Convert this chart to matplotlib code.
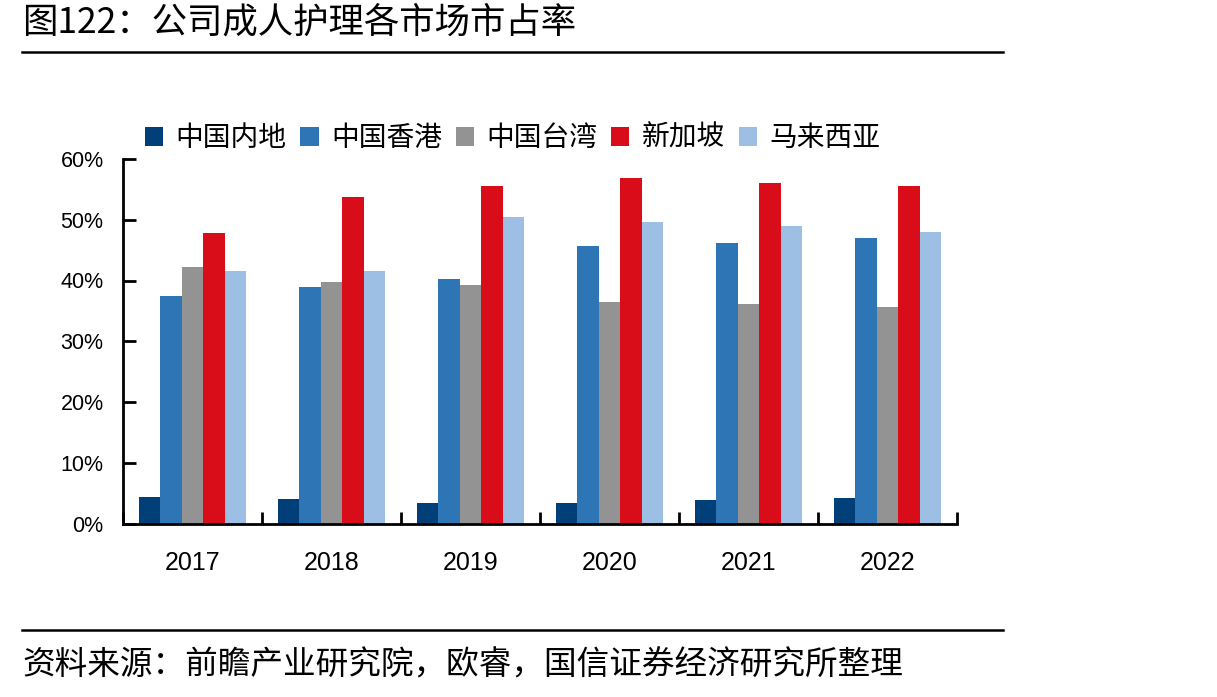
import numpy as np
import matplotlib
matplotlib.use('Agg')
import matplotlib.pyplot as plt
from matplotlib.ticker import FixedLocator, PercentFormatter

plt.rcParams['font.family'] = ['Noto Sans CJK SC', 'DejaVu Sans']

years = ['2017', '2018', '2019', '2020', '2021', '2022']
series_names = ['中国内地', '中国香港', '中国台湾', '新加坡', '马来西亚']
mainland = [4.3, 4.0, 3.4, 3.4, 3.8, 4.2]
hongkong = [37.5, 39.0, 40.3, 45.6, 46.2, 47.0]
taiwan = [42.3, 39.8, 39.2, 36.4, 36.1, 35.7]
singapore = [47.8, 53.7, 55.5, 56.9, 56.1, 55.5]
malaysia = [41.5, 41.6, 50.5, 49.7, 49.0, 48.0]
colors = ['#003f78', '#2e75b6', '#939393', '#d90c1a', '#9cbfe3']

title = '图122：公司成人护理各市场市占率'
source = '资料来源：前瞻产业研究院，欧睿，国信证券经济研究所整理'

W, H = 1217, 697
fig = plt.figure(figsize=(W / 100, H / 100), dpi=100)
ax = fig.add_axes([123 / W, 1 - 523.5 / H, 834 / W, 364.5 / H])

values = [mainland, hongkong, taiwan, singapore, malaysia]
x = np.arange(len(years))
bw = 0.155
for i, (vals, name, c) in enumerate(zip(values, series_names, colors)):
    ax.bar(x + (i - 2) * bw, vals, width=bw, color=c, label=name, linewidth=0)

ax.set_xlim(-0.5, len(years) - 0.5)
ax.set_ylim(0, 60)
ax.set_yticks(np.arange(0, 61, 10))
ax.yaxis.set_major_formatter(PercentFormatter(decimals=0))
ax.set_xticks(x)
ax.set_xticklabels(years)
ax.xaxis.set_minor_locator(FixedLocator(np.arange(-0.5, len(years), 1.0)))

for s in ['top', 'right']:
    ax.spines[s].set_visible(False)
for s in ['left', 'bottom']:
    ax.spines[s].set_linewidth(2)

ax.tick_params(axis='y', direction='in', length=9, width=2, pad=14,
               labelsize=15.5)
for lab in ax.get_yticklabels():
    lab.set_fontfamily(['Liberation Sans', 'DejaVu Sans'])
ax.tick_params(axis='x', which='major', length=0, pad=20, labelsize=18)
ax.tick_params(axis='x', which='minor', direction='in', length=9, width=2)
for lab in ax.get_xticklabels():
    lab.set_fontfamily(['Liberation Sans', 'DejaVu Sans'])

fig.legend(loc='center left', bbox_to_anchor=(145 / W, 1 - 138 / H),
           ncol=5, frameon=False, fontsize=20, borderpad=0, borderaxespad=0,
           handlelength=0.65, handleheight=0.65, handletextpad=0.45,
           columnspacing=0.5)

# title and source with separator lines
fig.text(22 / W, 1 - 23 / H, title, fontsize=25.5, va='center', ha='left')
fig.add_artist(plt.Line2D([22 / W, 1003 / W], [1 - 52 / H, 1 - 52 / H],
                          color='black', linewidth=1.8))
fig.add_artist(plt.Line2D([22 / W, 1003 / W], [1 - 630 / H, 1 - 630 / H],
                          color='black', linewidth=1.8))
fig.text(22 / W, 1 - 665 / H, source, fontsize=23.5, va='center', ha='left')

fig.savefig('out.png', dpi=100)
